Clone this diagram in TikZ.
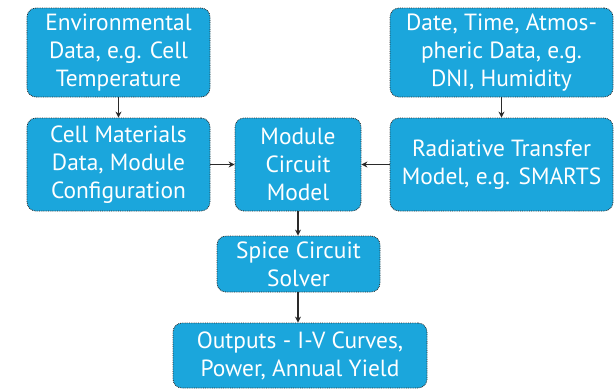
\documentclass[tikz,border=0pt]{standalone}
\usepackage{fontspec}
\setmainfont{PT Sans}
\usetikzlibrary{arrows.meta}
\definecolor{boxblue}{HTML}{1BA6DC}
\definecolor{edge}{HTML}{2A2A2A}
\begin{document}
\begin{tikzpicture}[x=1bp,y=-1bp,
  box/.style={draw=edge,line width=0.8bp,densely dotted,fill=boxblue,rounded corners=9bp,
    text=white,align=center,inner sep=0pt,
    font=\fontsize{23.5}{28}\selectfont},
  conn/.style={draw=edge,line width=1.2bp,-{Stealth[length=6bp,width=6bp]}}]
\useasboundingbox (0,0) rectangle (615,390);
\node[box,minimum width=183bp,minimum height=89bp] (env) at (118.5,52.5) {Environmental\\Data, e.g. Cell\\Temperature};
\node[box,minimum width=183bp,minimum height=93bp] (cell) at (118.5,164.5) {Cell Materials\\Data, Module\\Configuration};
\node[box,minimum width=126bp,minimum height=93bp] (mod) at (298,164.5) {Module\\Circuit\\Model};
\node[box,minimum width=223bp,minimum height=89bp] (date) at (501.5,52.5) {Date, Time, Atmos-\\pheric Data, e.g.\\DNI, Humidity};
\node[box,minimum width=223bp,minimum height=93bp] (rad) at (501.5,164.5) {Radiative Transfer\\Model, e.g. SMARTS};
\node[box,minimum width=163bp,minimum height=56bp] (spice) at (298.5,264) {Spice Circuit\\Solver};
\node[box,minimum width=254bp,minimum height=65bp] (out) at (300,355.5) {Outputs - I-V Curves,\\Power, Annual Yield};
\draw[conn] (env) -- (cell);
\draw[conn] (cell) -- (mod);
\draw[conn] (date) -- (rad);
\draw[conn] (rad) -- (mod);
\draw[conn] (mod) -- (mod|-spice.north);
\draw[conn] (spice.south-|mod) -- (mod|-out.north);
\end{tikzpicture}
\end{document}
